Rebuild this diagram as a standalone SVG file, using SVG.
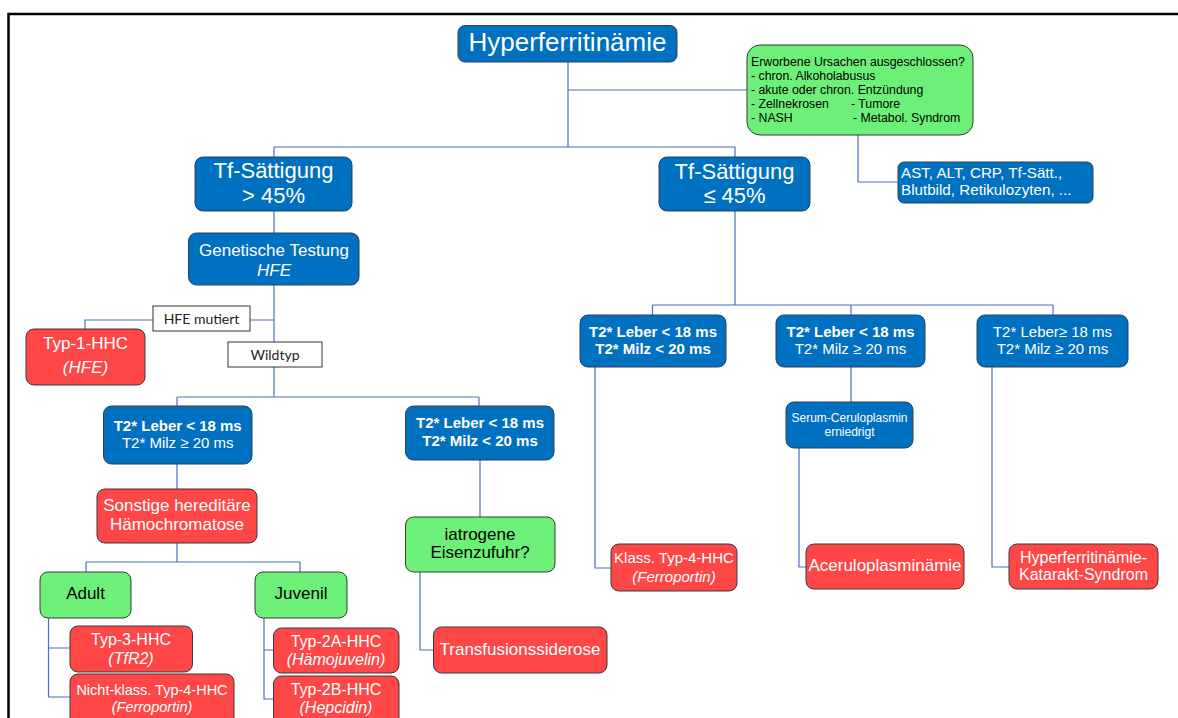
<svg xmlns="http://www.w3.org/2000/svg" width="1178" height="718" viewBox="0 0 1178 718">
<style>
.b{fill:#0070C0;stroke:#2f3f55;stroke-width:1}
.r{fill:#FF4747;stroke:#3a3a3a;stroke-width:1}
.g{fill:#6CF077;stroke:#3a3a3a;stroke-width:1}
.l{fill:#fff;stroke:#333;stroke-width:1}
.c{fill:none;stroke:#4A6FBF;stroke-width:1.2}
text{font-family:"Liberation Sans",Arial,sans-serif}
.w{fill:#fff;text-anchor:middle}
.k{fill:#000;text-anchor:middle}
.i{font-style:italic}
.bd{font-weight:bold}
.lab{font-family:Lato,"Open Sans",sans-serif;font-size:14px;fill:#222;text-anchor:middle}
</style>
<rect x="8.5" y="14" width="1200" height="800" fill="none" stroke="#000" stroke-width="2.5"/>
<g id="connectors" class="c">
<path d="M568 62V147M568 90H747M274 147H735M274 147V157M735 147V157"/>
<path d="M858 135V182H898"/>
<path d="M274 211V233M274 285V397M274 320H85V329M177 397H479M177 397V406M479 397V406"/>
<path d="M177 464V489M177 543V562M86 562H300M86 562V572M300 562V572"/>
<path d="M48.5 618V697H70M48.5 648H70M264 618V699H273.5M264 650H273.5"/>
<path d="M480 460V517M420 572V650H433.5"/>
<path d="M735 211V305M652.5 305H1053M652.5 305V315M851 305V315M1053 305V315"/>
<path d="M595 367V568H611M851 367V402M799 448V567H806M992 367V567H1009"/>
</g>
<g id="n-hyper"><rect class="b" x="458" y="25.5" width="219" height="36.5" rx="7"/><text class="w" x="567.5" y="50.5" font-size="26">Hyperferritinämie</text></g>
<g id="n-acquired"><rect class="g" x="747" y="45" width="226" height="90" rx="13"/>
<text font-size="12.3" fill="#000"><tspan x="751" y="65.5">Erworbene Ursachen ausgeschlossen?</tspan><tspan x="751" y="79.5">- chron. Alkoholabusus</tspan><tspan x="751" y="93.5">- akute oder chron. Entzündung</tspan><tspan x="751" y="107.5">- Zellnekrosen</tspan><tspan x="751" y="121.5">- NASH</tspan></text>
<text font-size="12.3" fill="#000"><tspan x="851" y="107.5">- Tumore</tspan><tspan x="853" y="121.5">- Metabol. Syndrom</tspan></text></g>
<g id="n-labs"><rect class="b" x="898" y="162" width="195" height="41" rx="6"/><text font-size="15.2" fill="#fff"><tspan x="901" y="178">AST, ALT, CRP, Tf-Sätt.,</tspan><tspan x="901" y="195">Blutbild, Retikulozyten, ...</tspan></text></g>
<g id="n-tfhigh"><rect class="b" x="195" y="157" width="157" height="54" rx="8"/><text class="w" font-size="22"><tspan x="273.5" y="178">Tf-Sättigung</tspan><tspan x="273.5" y="203">&gt; 45%</tspan></text></g>
<g id="n-tflow"><rect class="b" x="659" y="157" width="151" height="54" rx="8"/><text class="w" font-size="22"><tspan x="734.5" y="179">Tf-Sättigung</tspan><tspan x="734.5" y="203">≤ 45%</tspan></text></g>
<g id="n-gen"><rect class="b" x="188.5" y="233" width="170.5" height="52" rx="8"/><text class="w" font-size="17"><tspan x="274" y="256">Genetische Testung</tspan><tspan x="274" y="276" class="i">HFE</tspan></text></g>
<g id="l-hfe"><rect class="l" x="153" y="306" width="97" height="25"/><text class="lab" x="201.5" y="323.5">HFE mutiert</text></g>
<g id="l-wild"><rect class="l" x="228" y="342" width="94" height="25"/><text class="lab" x="275" y="359.5">Wildtyp</text></g>
<g id="n-typ1"><rect class="r" x="26" y="329" width="119" height="56" rx="8"/><text class="w" font-size="17"><tspan x="85.5" y="349">Typ-1-HHC</tspan><tspan x="85.5" y="373" class="i">(HFE)</tspan></text></g>
<g id="n-t2a"><rect class="b" x="103.5" y="406" width="148.5" height="58" rx="8"/><text class="w" font-size="15"><tspan x="177.7" y="431" class="bd">T2* Leber &lt; 18 ms</tspan><tspan x="177.7" y="448">T2* Milz ≥ 20 ms</tspan></text></g>
<g id="n-t2b"><rect class="b" x="405.5" y="406" width="148.5" height="54" rx="8"/><text class="w bd" font-size="15"><tspan x="480" y="428">T2* Leber &lt; 18 ms</tspan><tspan x="480" y="446">T2* Milz &lt; 20 ms</tspan></text></g>
<g id="n-sonst"><rect class="r" x="97" y="489" width="160" height="54" rx="8"/><text class="w" font-size="17"><tspan x="177" y="511">Sonstige hereditäre</tspan><tspan x="177" y="530">Hämochromatose</tspan></text></g>
<g id="n-adult"><rect class="g" x="40" y="572" width="91" height="46" rx="8"/><text class="k" x="85.5" y="599" font-size="17">Adult</text></g>
<g id="n-juv"><rect class="g" x="255" y="572" width="92" height="46" rx="8"/><text class="k" x="301" y="599" font-size="17">Juvenil</text></g>
<g id="n-typ3"><rect class="r" x="70" y="626" width="122.5" height="46" rx="8"/><text class="w" font-size="16"><tspan x="131" y="645">Typ-3-HHC</tspan><tspan x="131" y="664" class="i">(TfR2)</tspan></text></g>
<g id="n-nk4"><rect class="r" x="70" y="674" width="164" height="52" rx="8"/><text class="w" font-size="14.5"><tspan x="152" y="695">Nicht-klass. Typ-4-HHC</tspan><tspan x="152" y="712" class="i">(Ferroportin)</tspan></text></g>
<g id="n-typ2a"><rect class="r" x="273.5" y="628" width="125.5" height="45" rx="8"/><text class="w" font-size="16"><tspan x="336" y="647">Typ-2A-HHC</tspan><tspan x="336" y="665" class="i">(Hämojuvelin)</tspan></text></g>
<g id="n-typ2b"><rect class="r" x="273.5" y="676" width="125.5" height="50" rx="8"/><text class="w" font-size="16"><tspan x="336" y="695">Typ-2B-HHC</tspan><tspan x="336" y="713" class="i">(Hepcidin)</tspan></text></g>
<g id="n-iatro"><rect class="g" x="405.5" y="517" width="149.5" height="55" rx="8"/><text class="k" font-size="17"><tspan x="480" y="540">iatrogene</tspan><tspan x="480" y="558">Eisenzufuhr?</tspan></text></g>
<g id="n-transf"><rect class="r" x="433.5" y="627" width="173.5" height="46" rx="8"/><text class="w" x="520" y="655" font-size="17">Transfusionssiderose</text></g>
<g id="n-t2c"><rect class="b" x="580" y="315" width="146" height="52" rx="8"/><text class="w bd" font-size="15"><tspan x="653" y="337">T2* Leber &lt; 18 ms</tspan><tspan x="653" y="354">T2* Milz &lt; 20 ms</tspan></text></g>
<g id="n-t2d"><rect class="b" x="776" y="315" width="149" height="52" rx="8"/><text class="w" font-size="15"><tspan x="850.5" y="337" class="bd">T2* Leber &lt; 18 ms</tspan><tspan x="850.5" y="354">T2* Milz ≥ 20 ms</tspan></text></g>
<g id="n-t2e"><rect class="b" x="977" y="315" width="151" height="52" rx="8"/><text class="w" font-size="15"><tspan x="1052.5" y="337">T2* Leber≥ 18 ms</tspan><tspan x="1052.5" y="354">T2* Milz ≥ 20 ms</tspan></text></g>
<g id="n-klass"><rect class="r" x="611" y="544" width="126" height="47" rx="8"/><text class="w" font-size="15"><tspan x="674" y="563">Klass. Typ-4-HHC</tspan><tspan x="674" y="582" class="i">(Ferroportin)</tspan></text></g>
<g id="n-serum"><rect class="b" x="786" y="402" width="127" height="46" rx="8"/><text class="w" font-size="12"><tspan x="849.5" y="422">Serum-Ceruloplasmin</tspan><tspan x="849.5" y="436">erniedrigt</tspan></text></g>
<g id="n-acer"><rect class="r" x="806" y="544" width="158" height="45" rx="8"/><text class="w" x="885" y="571" font-size="17">Aceruloplasminämie</text></g>
<g id="n-kat"><rect class="r" x="1009" y="544" width="149" height="45" rx="8"/><text class="w" font-size="16"><tspan x="1083.5" y="563">Hyperferritinämie-</tspan><tspan x="1083.5" y="580">Katarakt-Syndrom</tspan></text></g>
</svg>
